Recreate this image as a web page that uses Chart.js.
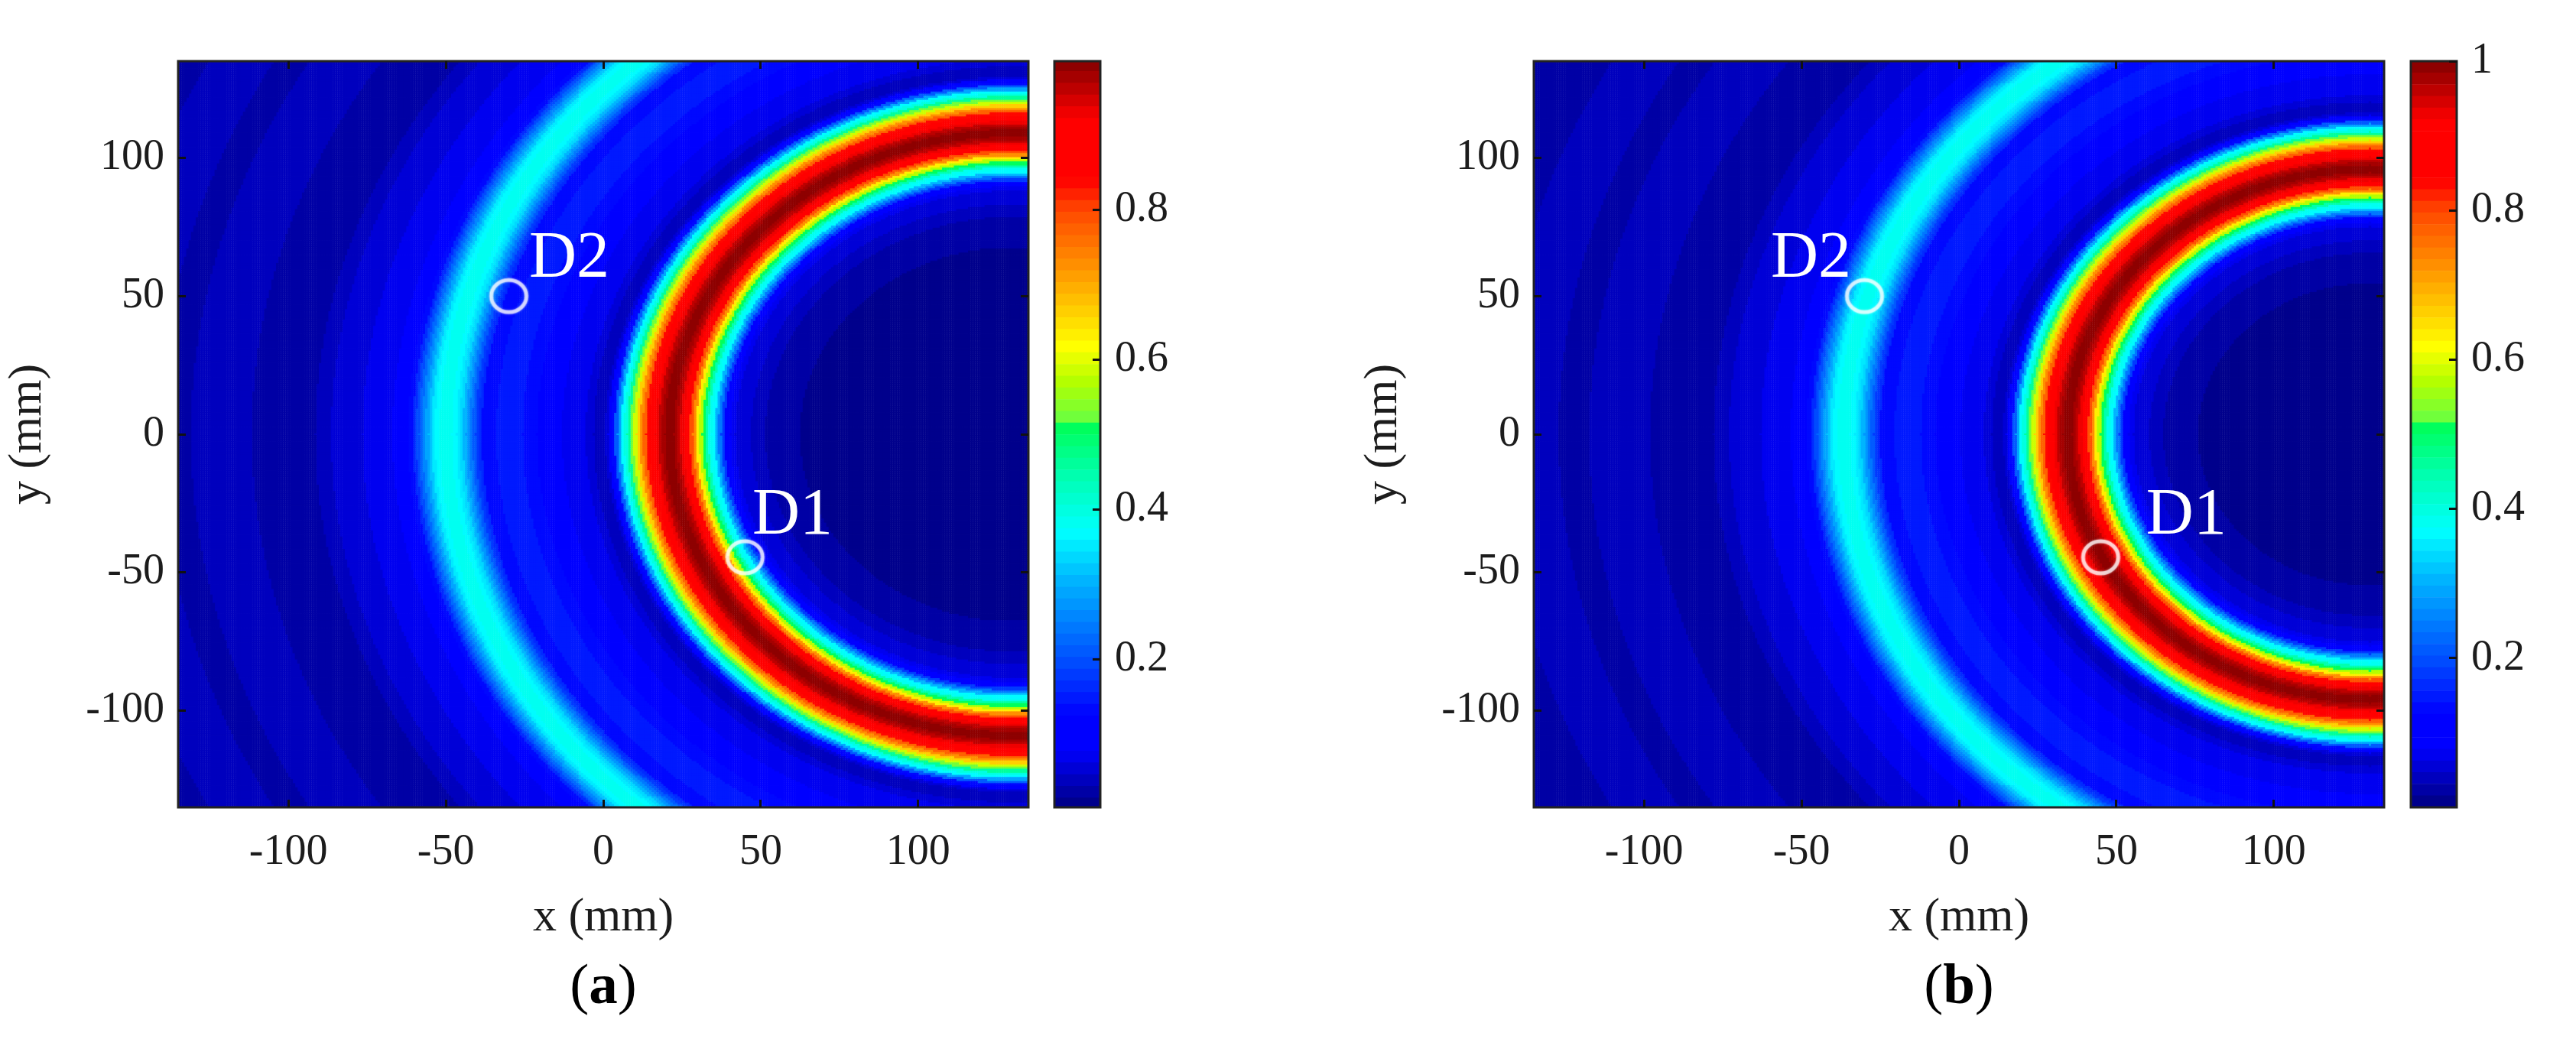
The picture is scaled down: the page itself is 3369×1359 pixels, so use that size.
<!DOCTYPE html>
<html>
<head>
<meta charset="utf-8">
<title>Rings</title>
<script src="https://cdn.jsdelivr.net/npm/chart.js@4/dist/chart.umd.min.js"></script>
<style>
  html, body { margin: 0; background: #fff; overflow: hidden; }
  body { width: 3369px; height: 1359px; position: relative; }
  canvas { position: absolute; top: 0; }
  .cap { position: absolute; top: 1242px; width: 300px; text-align: center; color: #000;
         font: 75px/90px "Liberation Serif", serif; }
</style>
</head>
<body>
<canvas id="heatA" width="1350" height="1359" style="left:0"></canvas>
<canvas id="barA" width="200" height="1359" style="left:1360px"></canvas>
<canvas id="heatB" width="1350" height="1359" style="left:1773px"></canvas>
<canvas id="barB" width="200" height="1359" style="left:3134px"></canvas>
<div class="cap" style="left:639px">(<b>a</b>)</div>
<div class="cap" style="left:2412px">(<b>b</b>)</div>
<script>
// axis ticks (mm)
const xTicks = [-100, -50, 0, 50, 100];
const yTicks = [-100, -50, 0, 50, 100];
const axisLimit = 135;
const cellSize = 0.75;

// colorbars
const barTicksA = [0.2, 0.4, 0.6, 0.8];
const barTicksB = [0.2, 0.4, 0.6, 0.8, 1];
const barRangeA = [0.003, 0.998];
const barRangeB = [0, 1];

// ring geometry (mm)
const ringCentreA = 130;
const ringCentreB = 130.5;
const mainRadiusA = 109;
const mainRadiusB = 96;

// radial profile: distance from the main ring (mm) and normalised level
const ringOffset = [-110, -55, -45, -38, -33, -28, -24, -22, -20, -19, -18, -17, -16, -15, -14, -13, -12, -11, -10,
  -9, -8, -7, -6, -5, -4, -3, -2, -1, 0, 1, 2, 3, 4, 5, 6, 7, 8, 9, 10,
  11, 12, 13, 14, 15, 16, 17, 18, 19, 20, 21, 23, 25, 28, 32, 36, 40, 44, 49, 53,
  57, 59, 60, 61, 62, 63, 64, 65, 66, 67, 68, 70, 72, 74, 75, 76, 77, 78, 79, 80, 81, 82,
  84, 86, 90, 95, 100, 105, 110, 115, 120, 125, 130, 135, 140, 145, 150, 154, 158, 165, 175, 185, 195];
const ringLevel = [0.004, 0.008, 0.014, 0.02, 0.03, 0.04, 0.05, 0.06, 0.07, 0.09, 0.12, 0.18, 0.24, 0.3, 0.36, 0.39, 0.44, 0.5, 0.57,
  0.64, 0.72, 0.79, 0.85, 0.9, 0.93, 0.96, 0.98, 0.99, 1, 0.99, 0.98, 0.96, 0.935, 0.91, 0.885, 0.84, 0.78, 0.72, 0.66,
  0.59, 0.52, 0.46, 0.4, 0.37, 0.29, 0.21, 0.13, 0.09, 0.05, 0.035, 0.045, 0.055, 0.065, 0.075, 0.09, 0.12, 0.14, 0.15, 0.145,
  0.135, 0.14, 0.16, 0.18, 0.21, 0.24, 0.27, 0.3, 0.33, 0.35, 0.37, 0.385, 0.385, 0.37, 0.35, 0.32, 0.29, 0.26, 0.22, 0.19, 0.16, 0.135,
  0.11, 0.09, 0.075, 0.07, 0.06, 0.05, 0.04, 0.03, 0.02, 0.022, 0.03, 0.035, 0.037, 0.037, 0.033, 0.018, 0.03, 0.037, 0.037, 0.03, 0.02];

// detectors (mm) and where their names sit
const detectorNames = ["D1", "D2"];
const detectorX = [45, -30];
const detectorY = [-44.5, 50];
const nameXA = [60.1, -10.8];
const nameXB = [72.2, -47];
const nameY = [-29.8, 63.2];

// colour stops
const colourStops = [0, 0.08, 0.125, 0.2, 0.3, 0.37, 0.45, 0.51, 0.515, 0.57, 0.617, 0.7, 0.8, 0.84, 0.92, 0.96, 1];
const colourRGB = [[0, 0, 128], [0, 0, 255], [0, 0, 255], [0, 80, 255], [0, 175, 255], [0, 255, 255], [0, 255, 170], [0, 255, 90],
  [100, 255, 70], [180, 255, 0], [255, 255, 0], [255, 170, 0], [255, 70, 0], [255, 0, 0], [255, 0, 0], [190, 0, 0], [130, 0, 0]];
const levelCount = 64;

const labelFont = '"Liberation Serif", serif';
const inkColor = "#1c1c1c";

function levelColour(i) {
  const v = (i + 0.5) / levelCount;
  let s = 0;
  while (s < colourStops.length - 2 && v > colourStops[s + 1]) s++;
  const t = (v - colourStops[s]) / (colourStops[s + 1] - colourStops[s]);
  const c = colourRGB[s].map((a, k) => Math.round(a + (colourRGB[s + 1][k] - a) * t));
  return `rgb(${c[0]},${c[1]},${c[2]})`;
}

function lookupLevel(d) {
  let best = 0;
  for (let i = 1; i < ringOffset.length; i++) {
    if (Math.abs(ringOffset[i] - d) < Math.abs(ringOffset[best] - d)) best = i;
  }
  return ringLevel[best];
}

// one scatter dataset per colour level, each point is one cell of the map
function buildCells(centre, radius) {
  const groups = [];
  for (let i = 0; i < levelCount; i++) groups.push([]);
  const n = Math.round(2 * axisLimit / cellSize);
  for (let iy = 0; iy <= n; iy++) {
    for (let ix = 0; ix <= n; ix++) {
      const x = -axisLimit + ix * cellSize;
      const y = -axisLimit + iy * cellSize;
      const d = Math.hypot(x - centre, y) - radius;
      const lv = Math.min(levelCount - 1, Math.floor(lookupLevel(d) * levelCount));
      groups[lv].push({ x: x, y: y });
    }
  }
  return groups.map((pts, i) => ({
    type: "scatter",
    data: pts,
    pointStyle: "rect",
    pointRadius: 2.5,
    pointBorderWidth: 0,
    backgroundColor: levelColour(i),
    clip: 0,
    order: 2
  }));
}

function detectorSprite() {
  const c = document.createElement("canvas");
  c.width = 64;
  c.height = 58;
  const g = c.getContext("2d");
  g.strokeStyle = "rgba(255,255,255,0.72)";
  g.lineWidth = 5;
  g.shadowColor = "rgba(255,255,255,0.6)";
  g.shadowBlur = 3;
  g.beginPath();
  g.ellipse(32, 29, 23, 21, 0, 0, Math.PI * 2);
  g.stroke();
  return c;
}

const framePlugin = {
  id: "frame",
  afterDatasetsDraw(chart) {
    const a = chart.chartArea;
    const ctx = chart.ctx;
    ctx.save();
    ctx.strokeStyle = "#222";
    ctx.lineWidth = 3;
    ctx.strokeRect(a.left, a.top, a.right - a.left, a.bottom - a.top);
    ctx.restore();
  }
};

function namesPlugin(nameX) {
  return {
    id: "names",
    afterDatasetsDraw(chart) {
      const ctx = chart.ctx;
      ctx.save();
      ctx.fillStyle = "#fff";
      ctx.font = "86px " + labelFont;
      ctx.textAlign = "center";
      ctx.textBaseline = "middle";
      detectorNames.forEach((name, i) => {
        ctx.fillText(name, chart.scales.x.getPixelForValue(nameX[i]), chart.scales.y.getPixelForValue(nameY[i]));
      });
      ctx.restore();
    }
  };
}

function tickList(values) {
  return (scale) => { scale.ticks = values.map((v) => ({ value: v })); };
}

function gridOpts() {
  return { drawOnChartArea: false, drawTicks: true, tickLength: -10, tickWidth: 3, tickColor: "#111", z: 1 };
}

function drawHeat(id, centre, radius, nameX) {
  const sets = buildCells(centre, radius);
  sets.push({
    type: "scatter",
    data: detectorX.map((x, i) => ({ x: x, y: detectorY[i] })),
    pointStyle: detectorSprite(),
    pointRadius: 1,
    order: 1
  });
  new Chart(document.getElementById(id), {
    type: "scatter",
    data: { datasets: sets },
    options: {
      responsive: false,
      animation: false,
      events: [],
      normalized: true,
      layout: { padding: 0 },
      plugins: { legend: { display: false }, tooltip: { enabled: false } },
      scales: {
        x: {
          type: "linear", position: "bottom", min: -axisLimit, max: axisLimit,
          afterBuildTicks: tickList(xTicks),
          afterFit: (s) => { s.height = 303; },
          grid: gridOpts(),
          border: { display: false },
          ticks: { color: inkColor, padding: 36, maxRotation: 0, font: { family: labelFont, size: 56 }, callback: (v) => String(v) },
          title: { display: true, text: "x (mm)", color: inkColor, font: { family: labelFont, size: 62 }, padding: { top: 0, bottom: 121 } }
        },
        y: {
          type: "linear", position: "left", min: -axisLimit, max: axisLimit,
          afterBuildTicks: tickList(yTicks),
          afterFit: (s) => { s.width = 233; },
          grid: gridOpts(),
          border: { display: false },
          ticks: { color: inkColor, padding: 28, font: { family: labelFont, size: 56 }, callback: (v) => String(v) },
          title: { display: true, text: "y (mm)", color: inkColor, font: { family: labelFont, size: 62 }, padding: { top: 0, bottom: 35 } }
        },
        x2: {
          type: "linear", position: "top", min: -axisLimit, max: axisLimit,
          afterBuildTicks: tickList(xTicks),
          afterFit: (s) => { s.height = 80; },
          grid: gridOpts(),
          border: { display: false },
          ticks: { display: false }
        },
        y2: {
          type: "linear", position: "right", min: -axisLimit, max: axisLimit,
          afterBuildTicks: tickList(yTicks),
          afterFit: (s) => { s.width = 5; },
          grid: gridOpts(),
          border: { display: false },
          ticks: { display: false }
        }
      }
    },
    plugins: [framePlugin, namesPlugin(nameX)]
  });
}

function drawBar(id, range, ticks) {
  const sets = [];
  for (let i = 0; i < levelCount; i++) {
    sets.push({ data: [1 / levelCount], backgroundColor: levelColour(i), barPercentage: 1, categoryPercentage: 1 });
  }
  new Chart(document.getElementById(id), {
    type: "bar",
    data: { labels: [""], datasets: sets },
    options: {
      responsive: false,
      animation: false,
      events: [],
      layout: { padding: { left: 19, top: 80, bottom: 303 } },
      plugins: { legend: { display: false }, tooltip: { enabled: false } },
      scales: {
        x: { stacked: true, display: false },
        y: {
          stacked: true, position: "right", min: range[0], max: range[1],
          afterBuildTicks: tickList(ticks),
          afterFit: (s) => { s.width = 121; },
          grid: gridOpts(),
          border: { display: false },
          ticks: { color: inkColor, padding: 29, font: { family: labelFont, size: 56 }, callback: (v) => String(v) }
        }
      }
    },
    plugins: [framePlugin]
  });
}

drawHeat("heatA", ringCentreA, mainRadiusA, nameXA);
drawBar("barA", barRangeA, barTicksA);
drawHeat("heatB", ringCentreB, mainRadiusB, nameXB);
drawBar("barB", barRangeB, barTicksB);
</script>
</body>
</html>
